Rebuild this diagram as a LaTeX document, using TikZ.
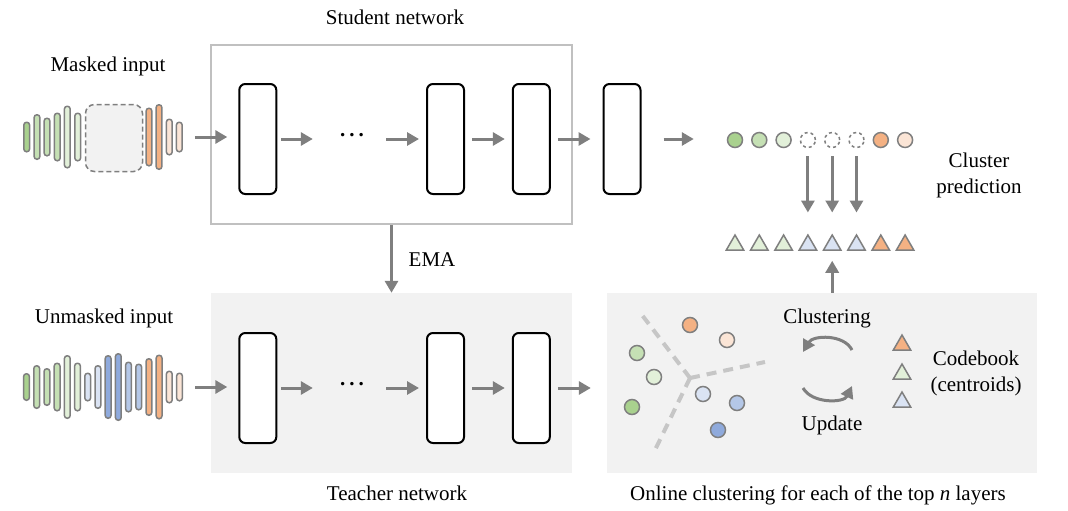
\documentclass[tikz,border=0pt]{standalone}
\usepackage{fontspec}
\setmainfont{Liberation Serif}
\usetikzlibrary{arrows.meta, shapes.geometric}

\definecolor{greenA}{HTML}{A9D18E}
\definecolor{greenB}{HTML}{C5E0B4}
\definecolor{greenC}{HTML}{E2F0D9}
\definecolor{orangeA}{HTML}{F4B183}
\definecolor{orangeC}{HTML}{FBE5D6}
\definecolor{blueA}{HTML}{8FAADC}
\definecolor{blueB}{HTML}{B4C7E7}
\definecolor{blueC}{HTML}{DAE3F3}
\definecolor{edgegray}{HTML}{7F7F7F}
\definecolor{framegray}{HTML}{C0C0C0}
\definecolor{panel}{HTML}{F2F2F2}

\newcommand{\layerdots}{\bfseries .\hspace{4pt}.\hspace{4pt}.}

\begin{document}
\begin{tikzpicture}[x=1pt, y=-1pt, >={Triangle[length=12pt, width=13pt]},
    every node/.style={font=\fontsize{21}{26}\selectfont},
    layer/.style={draw, line width=2pt, rounded corners=6pt, fill=white,
        minimum width=37pt, minimum height=110pt, inner sep=0pt},
    flow/.style={->, draw=edgegray, line width=3pt},
    bar/.style={draw=edgegray, line width=1.5pt, rounded corners=2.8pt,
        minimum width=5.8pt, inner sep=0pt},
    dot/.style={circle, draw=edgegray, line width=1.5pt, minimum size=15pt, inner sep=0pt},
    tri/.style={regular polygon, regular polygon sides=3, draw=edgegray,
        line width=1.5pt, minimum size=20pt, inner sep=0pt},
    cut/.style={draw=gray!45, line width=4pt, dash pattern=on 10pt off 7pt}]

    \useasboundingbox (0,0) rectangle (1068,511);

    % 1. Khung mạng student / teacher và khung clustering
    \node[draw=framegray, line width=2pt, minimum width=361pt, minimum height=179pt] (student) at (391.5,134.5) {};
    \node[fill=panel, minimum width=361pt, minimum height=180pt] (teacher) at (391.5,383) {};
    \node[fill=panel, minimum width=430pt, minimum height=180pt] (cluster) at (822,383) {};
    \node (studentlbl) at (395,17) {Student network};
    \node (teacherlbl) at (397,493) {Teacher network};
    \node (clusterlbl) at (818,495) {Online clustering for each of the top \textit{n} layers};

    % 2. Tín hiệu đầu vào (masked / unmasked)
    \node (maskedlbl) at (108,66) {Masked input};
    \node (unmaskedlbl) at (104,318) {Unmasked input};
    \node[draw=edgegray, dash pattern=on 5pt off 3pt, line width=1.5pt, fill=panel,
        rounded corners=9pt, minimum width=57pt, minimum height=67pt] (mask) at (114,138) {};
    \foreach \i/\x/\h/\c in {1/26.7/29.5/greenA, 2/37/44.5/greenB, 3/47/37.5/greenB,
            4/57.3/47.5/greenB, 5/67.3/61.5/greenC, 6/77.7/47.5/greenC,
            7/149/57.5/orangeA, 8/159/64.5/orangeA, 9/169.3/35.5/orangeC, 10/179.3/29.5/orangeC}
        \node[bar, fill=\c, minimum height=\h pt] (mb\i) at (\x,137) {};
    \foreach \i/\h/\c in {1/26.5/greenA, 2/42.5/greenB, 3/36.5/greenB, 4/47.5/greenB,
            5/62.5/greenC, 6/47.5/greenC, 7/27.5/blueC, 8/42.5/blueC,
            9/62.5/blueA, 10/66.5/blueA, 11/49.5/blueB, 12/45.5/blueB,
            13/56.5/orangeA, 14/63.5/orangeA, 15/31.5/orangeC, 16/27.5/orangeC}
        \node[bar, fill=\c, minimum height=\h pt] (ub\i) at ({26.5+10.2*(\i-1)},387) {};

    % 3. Các lớp mạng
    \foreach \n/\x in {1/257.8, 2/445.5, 3/531.3, 4/622}
        \node[layer] (s\n) at (\x,139) {};
    \foreach \n/\x in {1/257.8, 2/445.5, 3/531.3}
        \node[layer] (r\n) at (\x,388) {};
    \node[minimum width=64pt, inner sep=0pt] (sdots) at (352,135) {\layerdots};
    \node[minimum width=64pt, inner sep=0pt] (rdots) at (352,384) {\layerdots};

    \draw[flow, shorten <=12pt, shorten >=11pt] (mb10) -- (mb10 -| s1.west);
    \draw[flow, shorten <=4pt, shorten >=7pt] (s1) -- (s1 -| sdots.west);
    \draw[flow, shorten <=2pt, shorten >=7pt] (sdots.east |- s2) -- (s2);
    \draw[flow, shorten <=7pt, shorten >=7pt] (s2) -- (s3);
    \draw[flow, shorten <=7pt, shorten >=12pt] (s3) -- (s4);

    \draw[flow, shorten <=12pt, shorten >=11pt] (ub16) -- (ub16 -| r1.west);
    \draw[flow, shorten <=4pt, shorten >=7pt] (r1) -- (r1 -| rdots.west);
    \draw[flow, shorten <=2pt, shorten >=7pt] (rdots.east |- r2) -- (r2);
    \draw[flow, shorten <=7pt, shorten >=7pt] (r2) -- (r3);
    \draw[flow, shorten <=7pt, shorten >=16pt] (r3) -- (r3 -| cluster.west);

    % EMA
    \draw[flow] (student.south) -- (teacher.north);
    \node (ema) at (432,260) {EMA};

    % 4. Dự đoán cụm
    \foreach \n/\c in {1/greenA, 2/greenB, 3/greenC, 7/orangeA, 8/orangeC}
        \node[dot, fill=\c] (o\n) at ({735+24.3*(\n-1)},140) {};
    \foreach \n in {4,5,6}
        \node[dot, dashed, fill=white] (o\n) at ({735+24.3*(\n-1)},140) {};
    \foreach \n/\c in {1/greenC, 2/greenC, 3/greenC, 4/blueC, 5/blueC, 6/blueC, 7/orangeA, 8/orangeA}
        \node[tri, fill=\c] (p\n) at ({735+24.3*(\n-1)},245) {};
    \draw[flow, shorten <=22pt, shorten >=33pt] (s4) -- (s4 -| o1.west);
    \foreach \n in {4,5,6}
        \draw[flow, shorten <=8pt, shorten >=21pt] (o\n) -- (p\n);
    \draw[flow, shorten >=10pt] (cluster.north -| p5) -- (p5);
    \node[align=center] (predlbl) at (979,175) {Cluster\\prediction};

    % 5. Online clustering
    \coordinate (hub) at (690,378);
    \coordinate (cutA) at (642,315);
    \coordinate (cutB) at (765,362);
    \coordinate (cutC) at (655,450);
    \draw[cut] (hub) -- (cutA);
    \draw[cut] (hub) -- (cutB);
    \draw[cut] (hub) -- (cutC);

    \foreach \n/\x/\y/\c in {1/690/325/orangeA, 2/727/340/orangeC, 3/637/353/greenB,
            4/654/377/greenC, 5/632/407/greenA, 6/703/394/blueC, 7/737/403/blueB, 8/718/430/blueA}
        \node[dot, fill=\c] (q\n) at (\x,\y) {};

    \coordinate (upR) at (852,350);
    \coordinate (upL) at (803,352);
    \coordinate (loL) at (803,388);
    \coordinate (loR) at (852,386);
    \draw[flow] (upR) .. controls (844,334) and (813,335) .. (upL);
    \draw[flow] (loL) .. controls (812,404) and (844,403) .. (loR);
    \node (clusteringlbl) at (827,318) {Clustering};
    \node (updatelbl) at (832,425) {Update};

    \node[tri, fill=orangeA] (k1) at (902,345) {};
    \node[tri, fill=greenC] (k2) at (902,374) {};
    \node[tri, fill=blueC] (k3) at (902,402) {};
    \node[align=center] (codelbl) at (976,373) {Codebook\\(centroids)};

\end{tikzpicture}
\end{document}
